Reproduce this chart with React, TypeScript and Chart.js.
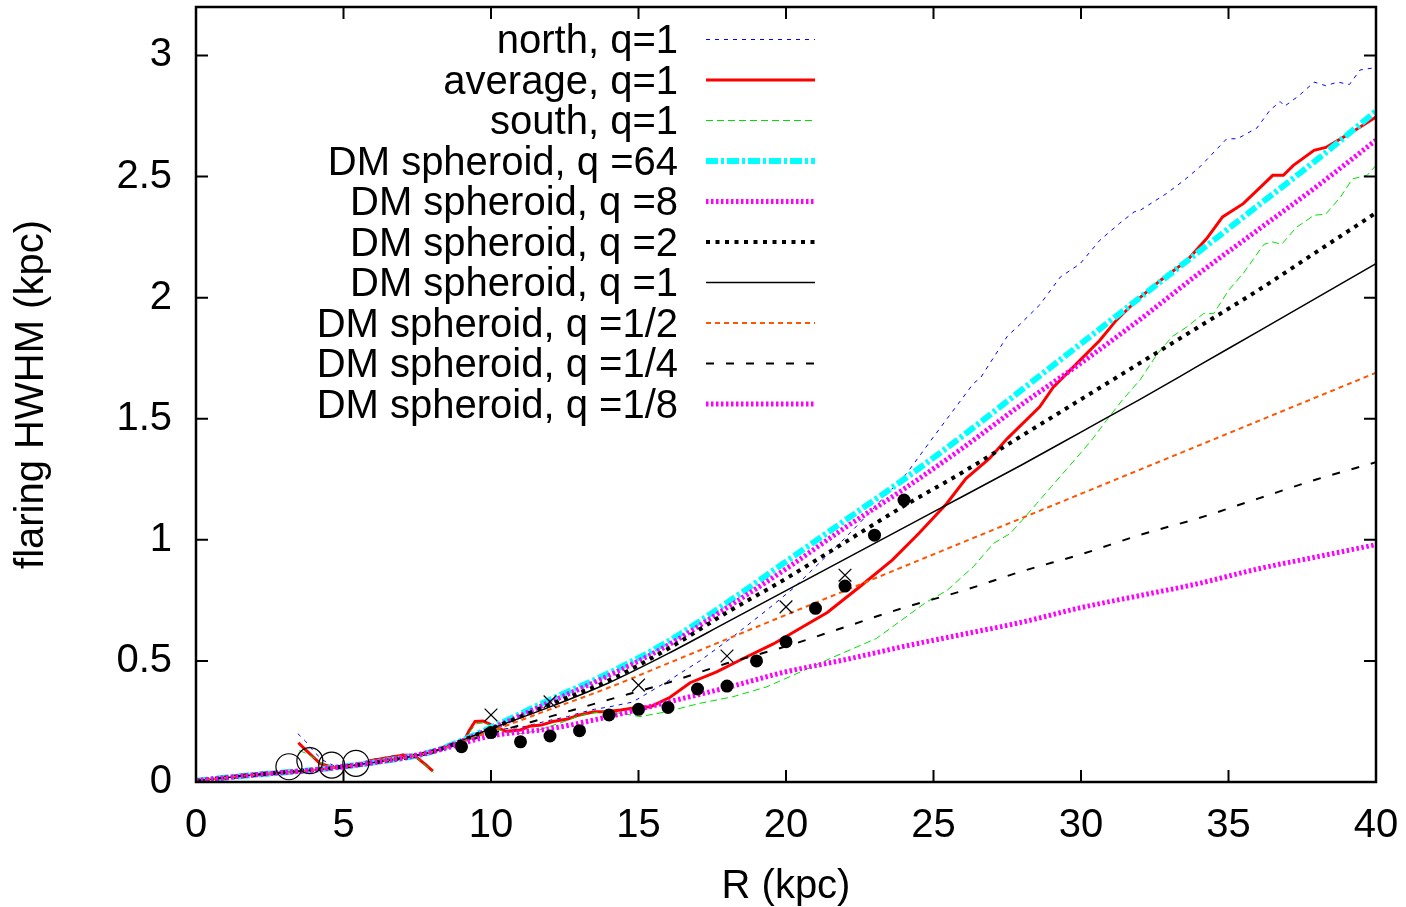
import React, { useEffect, useRef } from "react";
import { Chart, registerables } from "chart.js";

Chart.register(...registerables);

// ---------- axis ticks ----------
const X_TICKS = [0, 5, 10, 15, 20, 25, 30, 35, 40];
const Y_TICKS = [0, 0.5, 1, 1.5, 2, 2.5, 3];

// ---------- DM spheroid model curves ----------
const MODEL_R = [0, 2, 4, 6, 8, 10, 12, 14, 16, 18, 20, 22, 24, 26, 28, 30, 32, 34, 36, 38, 40];
const Q64 = [0.005, 0.03, 0.05, 0.08, 0.125, 0.225, 0.34, 0.45, 0.58, 0.74, 0.91, 1.08, 1.25, 1.43, 1.62, 1.81, 2.0, 2.19, 2.38, 2.57, 2.77];
const Q8 = [0.005, 0.03, 0.05, 0.08, 0.125, 0.22, 0.33, 0.44, 0.565, 0.72, 0.88, 1.05, 1.21, 1.38, 1.56, 1.73, 1.91, 2.1, 2.28, 2.46, 2.65];
const Q2 = [0.005, 0.03, 0.05, 0.08, 0.125, 0.22, 0.32, 0.42, 0.55, 0.7, 0.84, 0.99, 1.14, 1.28, 1.43, 1.58, 1.73, 1.88, 2.03, 2.19, 2.35];
const Q1 = [0.005, 0.03, 0.05, 0.08, 0.125, 0.22, 0.31, 0.41, 0.53, 0.66, 0.79, 0.92, 1.05, 1.18, 1.31, 1.445, 1.58, 1.72, 1.86, 2.0, 2.14];
const Q1_2 = [0.005, 0.03, 0.05, 0.08, 0.125, 0.21, 0.3, 0.39, 0.49, 0.59, 0.69, 0.79, 0.89, 0.99, 1.09, 1.19, 1.29, 1.39, 1.49, 1.59, 1.69];
const Q1_4 = [0.005, 0.03, 0.05, 0.08, 0.125, 0.2, 0.27, 0.34, 0.41, 0.49, 0.56, 0.64, 0.72, 0.79, 0.87, 0.94, 1.02, 1.09, 1.17, 1.25, 1.32];
const Q1_8 = [0.005, 0.03, 0.05, 0.08, 0.125, 0.19, 0.22, 0.27, 0.33, 0.39, 0.455, 0.505, 0.56, 0.61, 0.66, 0.72, 0.77, 0.82, 0.88, 0.93, 0.98];

// ---------- measured flaring (null = gap) ----------
const AVG_R = [3.47, 3.7, 4.0, 4.2, 4.6, 5.0, 5.5, 5.9, 6.5, 7.0, 7.3, 7.5, 7.8, 8.03, 8.5,
  9.06, 9.3, 9.46, 9.73, 10.1, 10.5, 11.0, 11.3, 11.7, 12.1, 12.6, 13.0, 13.5, 13.9, 14.4, 15.05, 15.4, 16.07, 16.75, 17.65, 18.55, 19.57, 20.47, 21.4, 22.5, 23.6, 24.5, 25.45, 26.1, 26.9, 27.5, 28.6, 29.06, 29.97, 30.64, 31.2, 31.9, 32.7, 33.6, 34.26, 34.8, 35.5, 36.2, 36.5, 36.86, 37.2, 37.9, 38.3, 39.1, 40];
const AVG_V = [0.162, 0.135, 0.1, 0.077, 0.062, 0.058, 0.07, 0.088, 0.1, 0.11, 0.11, 0.1, 0.07, 0.045, null,
  0.166, 0.22, 0.25, 0.252, 0.23, 0.21, 0.215, 0.23, 0.235, 0.25, 0.26, 0.277, 0.29, 0.29, 0.297, 0.31, 0.31, 0.35, 0.41, 0.455, 0.51, 0.57, 0.634, 0.7, 0.806, 0.916, 1.026, 1.15, 1.253, 1.336, 1.418, 1.549, 1.63, 1.742, 1.824, 1.907, 1.99, 2.072, 2.154, 2.244, 2.333, 2.388, 2.47, 2.505, 2.505, 2.546, 2.608, 2.62, 2.677, 2.746];

const NORTH_R = [3.45, 3.7, 4.0, 4.3, 4.7, 5.0, 5.5, 5.9, 6.5, 7.0, 7.3, 7.5, 7.8, 8.03, 8.5,
  9.06, 9.3, 9.5, 9.8, 10.1, 10.5, 11.0, 11.5, 12.0, 12.6, 13.0, 13.5, 14.0, 14.8, 15.96, 17.08, 18.2, 19.35, 20.25, 21.94, 22.5, 24.09, 25.0, 26.35, 26.6, 27.5, 27.9, 28.6, 29.3, 29.97, 30.64, 31.3, 31.8, 32.0, 32.9, 33.5, 34.03, 34.94, 35.3, 35.96, 36.4, 36.75, 36.9, 37.4, 37.9, 38.3, 38.7, 39.1, 39.46, 40];
const NORTH_V = [0.2, 0.17, 0.125, 0.09, 0.066, 0.062, 0.074, 0.092, 0.104, 0.115, 0.114, 0.104, 0.075, 0.05, null,
  0.17, 0.23, 0.255, 0.25, 0.235, 0.22, 0.225, 0.24, 0.255, 0.27, 0.285, 0.3, 0.31, 0.33, 0.414, 0.5, 0.6, 0.71, 0.8, 1.0, 1.07, 1.274, 1.425, 1.645, 1.67, 1.84, 1.886, 1.97, 2.085, 2.14, 2.237, 2.306, 2.354, 2.36, 2.43, 2.485, 2.54, 2.656, 2.656, 2.7, 2.773, 2.81, 2.79, 2.835, 2.89, 2.875, 2.89, 2.88, 2.94, 2.95];

const SOUTH_R = [3.5, 3.7, 4.0, 4.2, 4.6, 5.0, 5.5, 5.9, 6.5, 7.0, 7.3, 7.5, 7.8, 8.05, 8.5,
  9.06, 9.3, 9.5, 9.8, 10.1, 10.5, 11.0, 11.5, 12.0, 12.5, 13.0, 13.7, 14.4, 15.05, 15.96, 17.08, 18.2, 19.35, 20.5, 21.5, 23.07, 24.77, 25.45, 26.35, 27.03, 27.6, 28.0, 28.5, 29.0, 29.5, 30.0, 30.4, 30.87, 31.4, 32.0, 32.6, 33.1, 33.6, 34.15, 34.5, 35.0, 35.5, 36.2, 36.5, 36.8, 37.3, 37.9, 38.3, 38.8, 39.2, 39.7, 40];
const SOUTH_V = [0.13, 0.12, 0.1, 0.08, 0.062, 0.058, 0.068, 0.086, 0.098, 0.108, 0.108, 0.098, 0.068, 0.04, null,
  0.165, 0.21, 0.24, 0.245, 0.225, 0.205, 0.2, 0.21, 0.23, 0.25, 0.275, 0.29, 0.284, 0.27, 0.29, 0.325, 0.352, 0.393, 0.455, 0.51, 0.593, 0.744, 0.79, 0.889, 0.985, 1.026, 1.08, 1.15, 1.22, 1.29, 1.36, 1.418, 1.494, 1.577, 1.66, 1.77, 1.84, 1.88, 1.934, 1.934, 2.03, 2.1, 2.22, 2.23, 2.22, 2.29, 2.34, 2.345, 2.416, 2.49, 2.505, 2.546];

// ---------- point markers ----------
const DOT_R = [9, 10, 11, 12, 13, 14, 15, 16, 17, 18, 19, 20, 21, 22, 23, 24];
const DOT_V = [0.146, 0.204, 0.166, 0.19, 0.212, 0.277, 0.3, 0.308, 0.384, 0.396, 0.5, 0.579, 0.717, 0.809, 1.019, 1.164];
const CROSS_R = [10, 12, 15, 18, 20, 22];
const CROSS_V = [0.277, 0.331, 0.4, 0.52, 0.723, 0.854];
const RING_R = [3.15, 3.86, 4.6, 5.42];
const RING_V = [0.063, 0.088, 0.07, 0.077];

const FONT = "'Liberation Sans', Arial, Helvetica, sans-serif";

const pts = (xs: number[], ys: (number | null)[]) => xs.map((x, i) => ({ x, y: ys[i] }));

export default function App() {
  const ref = useRef<HTMLCanvasElement>(null);

  useEffect(() => {
    if (!ref.current) return;

    const lineDs = (label: string, xs: number[], ys: (number | null)[], color: string, width: number, dash: number[], order: number, smooth: boolean, inLegend = true) => ({
      label,
      data: pts(xs, ys),
      borderColor: color,
      backgroundColor: color,
      borderWidth: width,
      borderDash: dash,
      borderCapStyle: "butt",
      pointRadius: 0,
      pointHoverRadius: 0,
      showLine: true,
      fill: false,
      spanGaps: false,
      tension: 0,
      cubicInterpolationMode: smooth ? "monotone" : "default",
      order,
      inLegend,
    });

    const datasets: any[] = [
      lineDs("north, q=1", NORTH_R, NORTH_V, "#0000ff", 1, [4, 5], 13, false),
      lineDs("average, q=1", AVG_R, AVG_V, "#ff0000", 3, [], 12, false),
      lineDs("south, q=1", SOUTH_R, SOUTH_V, "#00e000", 1, [7, 4], 11, false),
      lineDs("DM spheroid, q =64", MODEL_R, Q64, "#00ffff", 6, [12, 3, 3, 3], 10, true),
      lineDs("DM spheroid, q =8", MODEL_R, Q8, "#ff00ff", 5, [2.5, 2.5], 9, true),
      lineDs("DM spheroid, q =2", MODEL_R, Q2, "#000000", 4, [4, 5.5], 8, true),
      lineDs("DM spheroid, q =1", MODEL_R, Q1, "#000000", 1.5, [], 7, true),
      lineDs("DM spheroid, q =1/2", MODEL_R, Q1_2, "#ff5500", 2, [5, 4], 6, true),
      lineDs("DM spheroid, q =1/4", MODEL_R, Q1_4, "#000000", 2, [8, 12], 5, true),
      lineDs("DM spheroid, q =1/8", MODEL_R, Q1_8, "#ff00ff", 5, [2.5, 2.5], 4, true),
      {
        label: "dots",
        data: pts(DOT_R, DOT_V),
        showLine: false,
        pointStyle: "circle",
        pointRadius: 6.5,
        pointBackgroundColor: "#000",
        pointBorderColor: "#000",
        pointBorderWidth: 0,
        order: 2,
        inLegend: false,
      },
      {
        label: "crosses",
        data: pts(CROSS_R, CROSS_V),
        showLine: false,
        pointStyle: "crossRot",
        pointRadius: 9,
        pointBorderColor: "#000",
        pointBorderWidth: 1.2,
        order: 1,
        inLegend: false,
      },
      {
        label: "rings",
        data: pts(RING_R, RING_V),
        showLine: false,
        pointStyle: "circle",
        pointRadius: 13,
        pointBackgroundColor: "rgba(0,0,0,0)",
        pointBorderColor: "#000",
        pointBorderWidth: 1.2,
        order: 0,
        inLegend: false,
      },
    ];

    const framePlugin = {
      id: "frame",
      afterDatasetsDraw(chart: any) {
        const { ctx, chartArea: a, scales } = chart;
        ctx.save();
        ctx.strokeStyle = "#000";
        ctx.lineWidth = 2;
        ctx.setLineDash([]);
        const tl = 12;
        ctx.beginPath();
        for (const v of X_TICKS) {
          const px = scales.x.getPixelForValue(v);
          ctx.moveTo(px, a.bottom);
          ctx.lineTo(px, a.bottom - tl);
          ctx.moveTo(px, a.top);
          ctx.lineTo(px, a.top + tl);
        }
        for (const v of Y_TICKS) {
          const py = scales.y.getPixelForValue(v);
          ctx.moveTo(a.left, py);
          ctx.lineTo(a.left + tl, py);
          ctx.moveTo(a.right, py);
          ctx.lineTo(a.right - tl, py);
        }
        ctx.stroke();
        ctx.lineWidth = 2.5;
        ctx.strokeRect(a.left, a.top, a.right - a.left, a.bottom - a.top);
        ctx.restore();
      },
    };

    const legendPlugin = {
      id: "customLegend",
      afterDraw(chart: any) {
        const { ctx } = chart;
        const entries = chart.data.datasets.filter((d: any) => d.inLegend);
        ctx.save();
        ctx.font = `40px ${FONT}`;
        ctx.fillStyle = "#000";
        ctx.textAlign = "right";
        ctx.textBaseline = "alphabetic";
        entries.forEach((d: any, i: number) => {
          const y = 39.5 + i * 40.5;
          ctx.fillText(d.label, 678, y + 13.5);
          ctx.beginPath();
          ctx.strokeStyle = d.borderColor;
          ctx.lineWidth = d.borderWidth;
          ctx.lineCap = "butt";
          ctx.setLineDash(d.borderDash || []);
          ctx.moveTo(706, y);
          ctx.lineTo(815, y);
          ctx.stroke();
        });
        ctx.restore();
      },
    };

    const chart = new Chart(ref.current, {
      type: "line",
      data: { datasets },
      options: {
        animation: false,
        responsive: true,
        maintainAspectRatio: false,
        events: [],
        layout: { autoPadding: false, padding: { left: 0, right: 30, top: 7, bottom: 0 } },
        plugins: {
          legend: { display: false },
          tooltip: { enabled: false },
        },
        scales: {
          x: {
            type: "linear",
            min: 0,
            max: 40,
            afterFit(scale: any) {
              scale.height = 125;
              scale.paddingLeft = 0;
              scale.paddingRight = 0;
            },
            afterBuildTicks(scale: any) {
              scale.ticks = X_TICKS.map((v) => ({ value: v }));
            },
            grid: { display: false, drawTicks: false },
            border: { display: false },
            ticks: {
              color: "#000",
              font: { family: FONT, size: 40 },
              padding: 20,
              maxRotation: 0,
              autoSkip: false,
              callback: (v: any) => String(v),
            },
            title: {
              display: true,
              text: "R (kpc)",
              color: "#000",
              font: { family: FONT, size: 40 },
              padding: { top: 0, bottom: -4 },
            },
          },
          y: {
            type: "linear",
            min: 0,
            max: 3.2,
            afterFit(scale: any) {
              scale.width = 196;
              scale.paddingTop = 0;
              scale.paddingBottom = 0;
            },
            afterBuildTicks(scale: any) {
              scale.ticks = Y_TICKS.map((v) => ({ value: v }));
            },
            grid: { display: false, drawTicks: false },
            border: { display: false },
            ticks: {
              color: "#000",
              font: { family: FONT, size: 40 },
              padding: 24,
              autoSkip: false,
              callback: (v: any) => String(v),
            },
            title: {
              display: true,
              text: "flaring HWHM (kpc)",
              color: "#000",
              font: { family: FONT, size: 40 },
              padding: { top: 8, bottom: 0 },
            },
          },
        },
      } as any,
      plugins: [framePlugin, legendPlugin],
    });

    return () => chart.destroy();
  }, []);

  return (
    <div style={{ position: "fixed", left: 0, top: 0, width: 1406, height: 907, background: "#fff" }}>
      <canvas ref={ref} />
    </div>
  );
}
